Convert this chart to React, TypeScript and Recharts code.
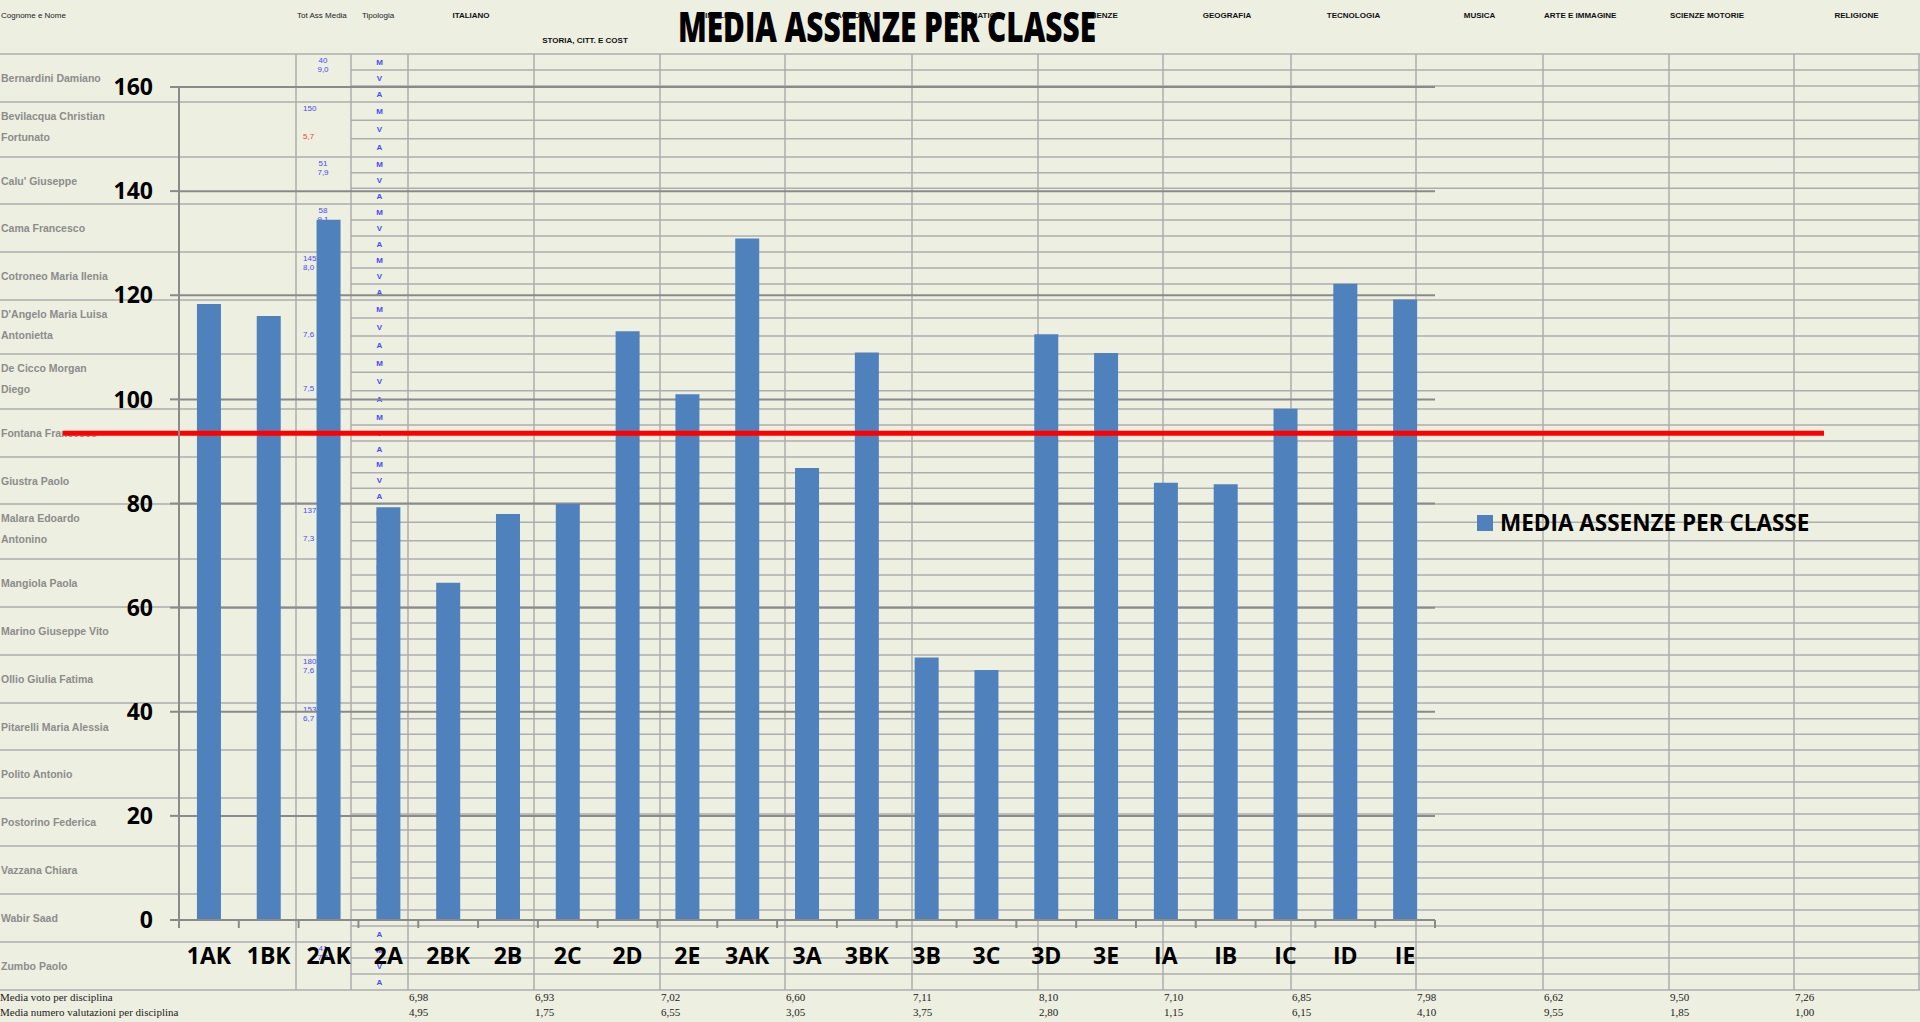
import { BarChart, Bar, XAxis, YAxis, CartesianGrid, ReferenceLine, Legend } from 'recharts';

// ---- chart data ----
const CLASSI = ['1AK', '1BK', '2AK', '2A', '2BK', '2B', '2C', '2D', '2E', '3AK', '3A', '3BK', '3B', '3C', '3D', '3E', 'IA', 'IB', 'IC', 'ID', 'IE'];
const MEDIA_ASSENZE = [118.3, 116.0, 134.5, 79.3, 64.8, 78.0, 79.9, 113.1, 101.0, 130.9, 86.8, 109.0, 50.4, 48.0, 112.5, 108.9, 84.0, 83.7, 98.2, 122.2, 119.2];
const MEDIA_ISTITUTO = 93.5;
const Y_TICKS = [0, 20, 40, 60, 80, 100, 120, 140, 160];

// ---- spreadsheet behind the chart ----
const STUDENTI = [
  'Bernardini Damiano',
  'Bevilacqua  Christian|Fortunato',
  "Calu' Giuseppe",
  'Cama Francesco',
  'Cotroneo Maria Ilenia',
  "D'Angelo Maria Luisa|Antonietta",
  'De Cicco Morgan|Diego',
  'Fontana Francesco',
  'Giustra Paolo',
  'Malara Edoardo|Antonino',
  'Mangiola Paola',
  'Marino Giuseppe Vito',
  'Ollio Giulia Fatima',
  'Pitarelli Maria Alessia',
  'Polito Antonio',
  'Postorino Federica',
  'Vazzana Chiara',
  'Wabir Saad',
  'Zumbo Paolo',
];
// Tot Ass / Media columns (only what is visible around the 2AK bar)
const TOT_ASSENZE = ['40', '150', '51', '58', '145', null, null, null, null, '137', null, null, '180', '153', null, null, null, null, '41'];
const MEDIA_STUDENTE = ['9,0', '5,7', '7,9', '9,1', '8,0', '7,6', '7,5', null, null, '7,3', null, null, '7,6', '6,7', null, null, null, null, '7,4'];
const MEDIA_A_CAPO = [false, true, false, false, false, true, true, false, false, true, false, false, false, false, false, false, false, false, false];

const MATERIE = ['ITALIANO', 'STORIA, CITT. E COST', 'INGLESE', 'SPAGNOLO', 'MATEMATICA', 'SCIENZE', 'GEOGRAFIA', 'TECNOLOGIA', 'MUSICA', 'ARTE E IMMAGINE', 'SCIENZE MOTORIE', 'RELIGIONE'];
const MEDIA_VOTO = ['6,98', '6,93', '7,02', '6,60', '7,11', '8,10', '7,10', '6,85', '7,98', '6,62', '9,50', '7,26'];
const MEDIA_VALUTAZIONI = ['4,95', '1,75', '6,55', '3,05', '3,75', '2,80', '1,15', '6,15', '4,10', '9,55', '1,85', '1,00'];
const TIPOLOGIA = ['M', 'V', 'A'];

const COL_EDGES = [296, 351, 408, 534, 660, 785, 912, 1038, 1163, 1291, 1416, 1543, 1669, 1794, 1919];
const ROW_EDGES = [54, 102, 157, 204, 252, 300, 354, 409, 457, 504, 559, 607, 655, 703, 750, 798, 846, 894, 942, 990];

const BG = '#EDEFE0';
const CELL_LINE = '#ADADAD';
const AXIS = '#8A8A8A';
const BAR = '#4F81BD';
const BLUE_TXT = '#4A4AF5';
const SANS = "'Liberation Sans', Arial, sans-serif";
const SERIF = "'Liberation Serif', serif";
const CHART_FONT = "'Open Sans', 'DejaVu Sans', sans-serif";

const data = CLASSI.map((classe, i) => ({ classe, assenze: MEDIA_ASSENZE[i] }));

function Foglio() {
  const subLines: number[] = [];
  for (let r = 0; r < ROW_EDGES.length - 1; r++) {
    const h = (ROW_EDGES[r + 1] - ROW_EDGES[r]) / 3;
    subLines.push(ROW_EDGES[r] + h, ROW_EDGES[r] + 2 * h);
  }
  return (
    <svg width={1920} height={1022} style={{ position: 'absolute', left: 0, top: 0 }}>
      <rect width={1920} height={1022} fill={BG} />
      {subLines.map((y, i) => (
        <line key={'s' + i} x1={COL_EDGES[1]} x2={1920} y1={y} y2={y} stroke={CELL_LINE} strokeWidth={1.5} />
      ))}
      {ROW_EDGES.map((y, i) => (
        <line key={'r' + i} x1={0} x2={1920} y1={y} y2={y} stroke={CELL_LINE} strokeWidth={1.5} />
      ))}
      {COL_EDGES.map((x, i) => (
        <line key={'c' + i} x1={x} x2={x} y1={ROW_EDGES[0]} y2={ROW_EDGES[ROW_EDGES.length - 1]} stroke={CELL_LINE} strokeWidth={1.5} />
      ))}

      {/* intestazioni */}
      <text x={1} y={18} fontFamily={SANS} fontSize={8} fill="#222">Cognome e Nome</text>
      <text x={297} y={18} fontFamily={SANS} fontSize={8} fill="#222">Tot Ass Media</text>
      <text x={362} y={18} fontFamily={SANS} fontSize={8} fill="#222">Tipologia</text>
      {MATERIE.map((m, i) => {
        const left = COL_EDGES[i + 2];
        const right = COL_EDGES[i + 3];
        const leftAligned = m === 'ARTE E IMMAGINE' || m === 'SCIENZE MOTORIE';
        const isStoria = i === 1;
        return (
          <text
            key={m}
            x={leftAligned ? left + 1 : isStoria ? (left + right) / 2 - 12 : (left + right) / 2}
            y={isStoria ? 43 : 18}
            textAnchor={leftAligned ? 'start' : 'middle'}
            fontFamily={SANS}
            fontSize={8}
            fontWeight={700}
            fill="#111"
          >
            {m}
          </text>
        );
      })}

      {/* nomi */}
      {STUDENTI.map((s, i) => {
        const c = (ROW_EDGES[i] + ROW_EDGES[i + 1]) / 2;
        const parts = s.split('|');
        return parts.map((p, j) => (
          <text
            key={s + j}
            x={1}
            y={parts.length === 1 ? c : j === 0 ? c - 13.5 : c + 7.5}
            dominantBaseline="central"
            fontFamily={SANS}
            fontSize={10.5}
            fontWeight={700}
            fill="#8C8C8C"
          >
            {p}
          </text>
        ));
      })}

      {/* tot assenze e media */}
      {STUDENTI.map((s, i) => {
        const top = ROW_EDGES[i];
        const tot = TOT_ASSENZE[i];
        const media = MEDIA_STUDENTE[i];
        const long = (tot && tot.length > 2) || MEDIA_A_CAPO[i];
        const x = long ? 303 : 323;
        const anchor = long ? 'start' : 'middle';
        return (
          <g key={'tot' + s}>
            {tot && (
              <text x={x} y={top + 6} dominantBaseline="central" textAnchor={anchor} fontFamily={SANS} fontSize={8} fill={BLUE_TXT}>{tot}</text>
            )}
            {media && (
              <text
                x={x}
                y={top + (MEDIA_A_CAPO[i] ? 34 : 15)}
                dominantBaseline="central"
                textAnchor={anchor}
                fontFamily={SANS}
                fontSize={8}
                fill={parseFloat(media.replace(',', '.')) < 6 ? '#F03C3C' : BLUE_TXT}
              >
                {media}
              </text>
            )}
          </g>
        );
      })}

      {/* tipologia M / V / A */}
      {STUDENTI.map((s, i) => {
        const h = (ROW_EDGES[i + 1] - ROW_EDGES[i]) / 3;
        return TIPOLOGIA.map((t, j) => (
          <text
            key={s + t}
            x={(COL_EDGES[1] + COL_EDGES[2]) / 2}
            y={ROW_EDGES[i] + h * (j + 0.5)}
            dominantBaseline="central"
            textAnchor="middle"
            fontFamily={SANS}
            fontSize={8}
            fontWeight={700}
            fill={BLUE_TXT}
          >
            {t}
          </text>
        ));
      })}

      {/* righe di riepilogo */}
      <text x={0} y={1001} fontFamily={SERIF} fontSize={11} fill="#222">Media voto per disciplina</text>
      <text x={0} y={1016} fontFamily={SERIF} fontSize={11} fill="#222">Media numero valutazioni per disciplina</text>
      {MEDIA_VOTO.map((v, i) => (
        <text key={'mv' + i} x={COL_EDGES[i + 2] + 1} y={1001} fontFamily={SERIF} fontSize={11} fill="#222">{v}</text>
      ))}
      {MEDIA_VALUTAZIONI.map((v, i) => (
        <text key={'mn' + i} x={COL_EDGES[i + 2] + 1} y={1016} fontFamily={SERIF} fontSize={11} fill="#222">{v}</text>
      ))}

      {/* titolo del grafico */}
      <text x={678} y={42} fontFamily={CHART_FONT} fontSize={42} fontWeight={800} fill="#000" textLength={418} lengthAdjust="spacingAndGlyphs">
        MEDIA ASSENZE  PER CLASSE
      </text>
    </svg>
  );
}

function ClassTick(props: any) {
  const { x, y, payload, index, visibleTicksCount } = props;
  const half = payload?.offset || 30;
  return (
    <g>
      <line x1={x - half} x2={x - half} y1={y} y2={y + 8} stroke={AXIS} strokeWidth={2} />
      {index === visibleTicksCount - 1 && (
        <line x1={x + half} x2={x + half} y1={y} y2={y + 8} stroke={AXIS} strokeWidth={2} />
      )}
      <text x={x} y={y + 44} textAnchor="middle" fontFamily={CHART_FONT} fontSize={23} fontWeight={700} fill="#000">
        {payload.value}
      </text>
    </g>
  );
}

function LegendaAssenze({ payload }: any) {
  return (
    <div style={{ display: 'flex', alignItems: 'center', gap: 7 }}>
      {(payload || []).map((entry: any) => (
        <div key={entry.value} style={{ display: 'flex', alignItems: 'center', gap: 7 }}>
          <div style={{ width: 16, height: 16, background: entry.color }} />
          <span style={{ fontFamily: CHART_FONT, fontSize: 22.5, fontWeight: 700, color: '#000', lineHeight: '30px', whiteSpace: 'nowrap' }}>
            {entry.value}
          </span>
        </div>
      ))}
    </div>
  );
}

export default function App() {
  return (
    <div style={{ position: 'absolute', left: 0, top: 0, width: 1920, height: 1022, overflow: 'hidden', background: BG }}>
      <Foglio />
      <div style={{ position: 'absolute', left: 0, top: 0 }}>
        <BarChart width={1920} height={1022} data={data} margin={{ top: 87, right: 485, bottom: 42, left: 0 }} barCategoryGap="30%">
          <CartesianGrid vertical={false} stroke={AXIS} strokeWidth={2} />
          <XAxis
            dataKey="classe"
            height={60}
            interval={0}
            axisLine={{ stroke: AXIS, strokeWidth: 2 }}
            tickLine={false}
            tickSize={0}
            tickMargin={0}
            tick={<ClassTick />}
          />
          <YAxis
            width={179}
            domain={[0, 160]}
            ticks={Y_TICKS}
            interval={0}
            axisLine={{ stroke: AXIS, strokeWidth: 2 }}
            tickLine={{ stroke: AXIS, strokeWidth: 2 }}
            tickSize={9}
            tickMargin={17}
            tick={{ fontFamily: CHART_FONT, fontSize: 23, fontWeight: 700, fill: '#000' }}
          />
          <Legend
            layout="horizontal"
            verticalAlign="middle"
            align="center"
            content={<LegendaAssenze />}
            wrapperStyle={{ left: 1477, top: 508, width: 'auto' }}
          />
          <Bar dataKey="assenze" name="MEDIA ASSENZE PER CLASSE" fill={BAR} isAnimationActive={false} />
          <ReferenceLine
            y={MEDIA_ISTITUTO}
            stroke="#FF0000"
            strokeWidth={5}
            shape={(p: any) => (
              <line x1={p.x1 - 116} y1={p.y1} x2={p.x2 + 389} y2={p.y2} stroke="#FF0000" strokeWidth={5} />
            )}
          />
        </BarChart>
      </div>
    </div>
  );
}
